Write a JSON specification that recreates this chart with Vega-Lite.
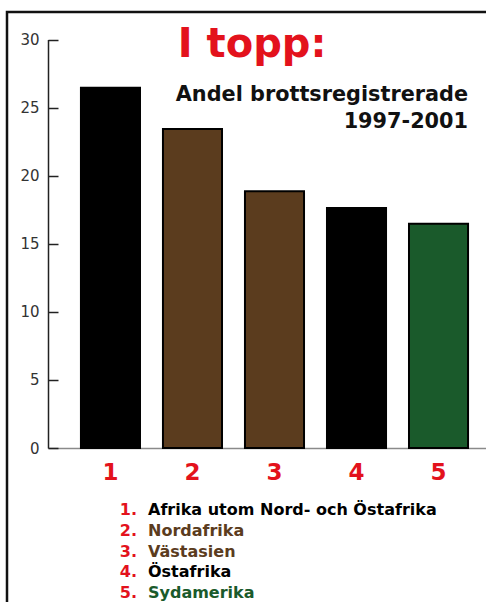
{
  "$schema": "https://vega.github.io/schema/vega-lite/v6.json",
  "autosize": {"type": "none"},
  "padding": {"left": 7, "top": 12, "right": 0, "bottom": 0},
  "width": 486,
  "height": 600,
  "background": "white",
  "config": {"view": {"stroke": "#111", "strokeWidth": 2.5, "fill": "white"}, "font": "DejaVu Sans"},
  "data": {"values": [
    {"rank": "1", "region": "Afrika utom Nord- och Östafrika", "value": 26.45},
    {"rank": "2", "region": "Nordafrika", "value": 23.43},
    {"rank": "3", "region": "Västasien", "value": 18.85},
    {"rank": "4", "region": "Östafrika", "value": 17.62},
    {"rank": "5", "region": "Sydamerika", "value": 16.47}
  ]},
  "layer": [
    {
      "layer": [
        {
          "mark": {"type": "bar", "stroke": "#000", "strokeWidth": 2},
          "encoding": {
            "x": {
              "field": "rank", "type": "ordinal",
              "scale": {"type": "band", "range": [41, 486], "paddingInner": 0.28, "paddingOuter": 0.353, "align": 0.569},
              "axis": {"title": null, "offset": -164, "ticks": false, "domainColor": "#8a8a8a", "domainWidth": 1.5, "labelAngle": 0, "labelColor": "#e3121c", "labelFont": "DejaVu Sans", "labelFontWeight": "bold", "labelFontSize": 23, "labelPadding": 13}
            },
            "y": {
              "field": "value", "type": "quantitative",
              "scale": {"domain": [0, 30], "range": [436, 27.5], "nice": false},
              "axis": {"title": null, "grid": false, "values": [0, 5, 10, 15, 20, 25, 30], "offset": -41, "domainColor": "#222", "domainWidth": 1.5, "tickColor": "#222", "tickWidth": 1.5, "tickSize": -10, "labelPadding": 19, "labelFont": "DejaVu Sans", "labelFontSize": 15, "labelColor": "#333"}
            },
            "color": {
              "field": "region", "type": "nominal",
              "scale": {
                "domain": ["Afrika utom Nord- och Östafrika", "Nordafrika", "Västasien", "Östafrika", "Sydamerika"],
                "range": ["#000000", "#5b3c1e", "#5b3c1e", "#000000", "#1a5a2b"]
              },
              "legend": null
            }
          }
        },
        {
          "data": {"values": [{}]},
          "mark": {"type": "text", "text": "I topp:", "fontWeight": "bold", "fontSize": 40, "color": "#e3121c", "align": "left", "baseline": "alphabetic"},
          "encoding": {"x": {"datum": "2", "bandPosition": 0.25}, "y": {"datum": 28.7}}
        },
        {
          "data": {"values": [{}]},
          "mark": {"type": "text", "text": "Andel brottsregistrerade", "fontWeight": "bold", "fontSize": 20.8, "color": "#111", "align": "right", "baseline": "alphabetic"},
          "encoding": {"x": {"datum": "5", "bandPosition": 1}, "y": {"datum": 25.46}}
        },
        {
          "data": {"values": [{}]},
          "mark": {"type": "text", "text": "1997-2001", "fontWeight": "bold", "fontSize": 20.8, "color": "#111", "align": "right", "baseline": "alphabetic"},
          "encoding": {"x": {"datum": "5", "bandPosition": 1}, "y": {"datum": 23.5}}
        }
      ]
    },
    {
      "transform": [{"calculate": "datum.rank + '.'", "as": "num"}],
      "layer": [
        {
          "mark": {"type": "text", "align": "right", "dx": -3, "fontWeight": "bold", "fontSize": 16, "color": "#e3121c", "baseline": "alphabetic"},
          "encoding": {
            "x": {"datum": "1", "bandPosition": 1},
            "y": {"field": "rank", "type": "ordinal", "scale": {"type": "point", "range": [503, 586], "padding": 0}, "axis": null},
            "text": {"field": "num"}
          }
        },
        {
          "mark": {"type": "text", "align": "left", "dx": 8, "fontWeight": "bold", "fontSize": 16, "baseline": "alphabetic"},
          "encoding": {
            "x": {"datum": "1", "bandPosition": 1},
            "y": {"field": "rank", "type": "ordinal", "axis": null},
            "text": {"field": "region"},
            "color": {"field": "region", "type": "nominal", "legend": null}
          }
        }
      ]
    }
  ],
  "resolve": {"scale": {"y": "independent"}}
}
